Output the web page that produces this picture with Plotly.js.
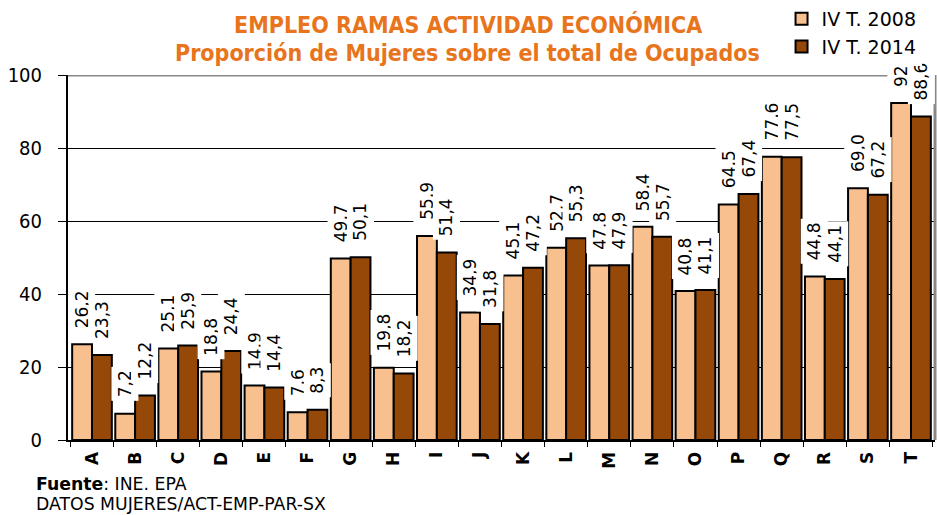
<!DOCTYPE html>
<html><head><meta charset="utf-8">
<script src="https://cdn.plot.ly/plotly-3.0.1.min.js"></script>
<style>body{margin:0;background:#fff}#c{width:937px;height:515px}</style>
</head><body><div id="c"></div>
<script>
const categories = ["A","B","C","D","E","F","G","H","I","J","K","L","M","N","O","P","Q","R","S","T"];
const values2008 = [26.2,7.2,25.1,18.8,14.9,7.6,49.7,19.8,55.9,34.9,45.1,52.7,47.8,58.4,40.8,64.5,77.6,44.8,69.0,92.3];
const values2014 = [23.3,12.2,25.9,24.4,14.4,8.3,50.1,18.2,51.4,31.8,47.2,55.3,47.9,55.7,41.1,67.4,77.5,44.1,67.2,88.6];
const seriesNames = ["IV T. 2008","IV T. 2014"];
const yTicks = [0,20,40,60,80,100];

const fmt = v => v.toFixed(1).replace('.', ',');
const mkTrace = (name, vals, color) => ({
  type:'bar', name:name, x:categories, y:vals,
  marker:{color:color, line:{color:'#000', width:2}},
  hoverinfo:'none'
});
const traces = [
  mkTrace(seriesNames[0], values2008, '#F9C08F'),
  mkTrace(seriesNames[1], values2014, '#964808')
];
const ann = [];
[values2008, values2014].forEach((vals, s) => {
  vals.forEach((v, i) => {
    ann.push({x:categories[i], y:v, xref:'x', yref:'y', text:fmt(v), showarrow:false,
      textangle:-90, xanchor:'center', yanchor:'bottom', xshift: s===0 ? -10 : 10, yshift:12,
      bgcolor:'#fff', borderpad:3, font:{family:'DejaVu Sans', size:17, color:'#000'}});
  });
});
const titleFont = {family:'DejaVu Sans Condensed, DejaVu Sans', size:23, color:'#E8741C', weight:'bold'};
ann.push({xref:'paper', yref:'paper', x:0.461, y:1.137, xanchor:'center', yanchor:'middle', showarrow:false,
  text:'<b>EMPLEO RAMAS ACTIVIDAD ECONÓMICA</b>', font:titleFont});
ann.push({xref:'paper', yref:'paper', x:0.461, y:1.0603, xanchor:'center', yanchor:'middle', showarrow:false,
  text:'<b>Proporción de Mujeres sobre el total de Ocupados</b>', font:titleFont});
const footFont = {family:'DejaVu Sans', size:17.3, color:'#000'};
ann.push({xref:'paper', yref:'paper', x:-0.0395, y:-0.12, xanchor:'left', yanchor:'middle', showarrow:false,
  align:'left', text:'<b>Fuente</b>: INE. EPA', font:footFont});
ann.push({xref:'paper', yref:'paper', x:-0.0395, y:-0.174, xanchor:'left', yanchor:'middle', showarrow:false,
  align:'left', text:'DATOS MUJERES/ACT-EMP-PAR-SX', font:footFont});

const layout = {
  width:937, height:515,
  margin:{l:68, r:2, t:75, b:75},
  paper_bgcolor:'#fff', plot_bgcolor:'#fff',
  barmode:'group', bargap:0.08, bargroupgap:0,
  showlegend:true,
  legend:{x:0.823, y:1.003, xref:'paper', yref:'container', xanchor:'left', yanchor:'top',
    font:{family:'DejaVu Sans', size:19, color:'#000'}, itemwidth:30, bgcolor:'#fff'},
  xaxis:{type:'category', tickangle:-90, showline:true, linecolor:'#000', linewidth:2,
    ticks:'outside', tickson:'boundaries', ticklen:5, tickcolor:'#000', tickwidth:1, ticklabelstandoff:3,
    tickfont:{family:'DejaVu Sans', size:17, color:'#000', weight:'bold'}, showgrid:false, fixedrange:true},
  yaxis:{range:[0,100], tickvals:yTicks, showline:true, linecolor:'#000', linewidth:2, mirror:false,
    ticks:'outside', ticklen:8, tickcolor:'#000', ticklabelstandoff:12, showgrid:true, gridcolor:'#000', gridwidth:1,
    tickfont:{family:'DejaVu Sans Condensed, DejaVu Sans', size:20, color:'#000'}, zeroline:false},
  shapes:[
    {type:'line', xref:'paper', yref:'y', x0:0, x1:1, y0:100, y1:100, line:{color:'#888', width:3}},
    {type:'line', xref:'paper', yref:'paper', x0:1, x1:1, y0:0, y1:1, line:{color:'#888', width:3}}
  ],
  annotations:ann
};
Plotly.newPlot('c', traces, layout, {staticPlot:true}).then(() => {
  const leg = document.querySelector('#c .legend');
  if (leg && leg.parentNode) leg.parentNode.appendChild(leg);
});
</script></body></html>
